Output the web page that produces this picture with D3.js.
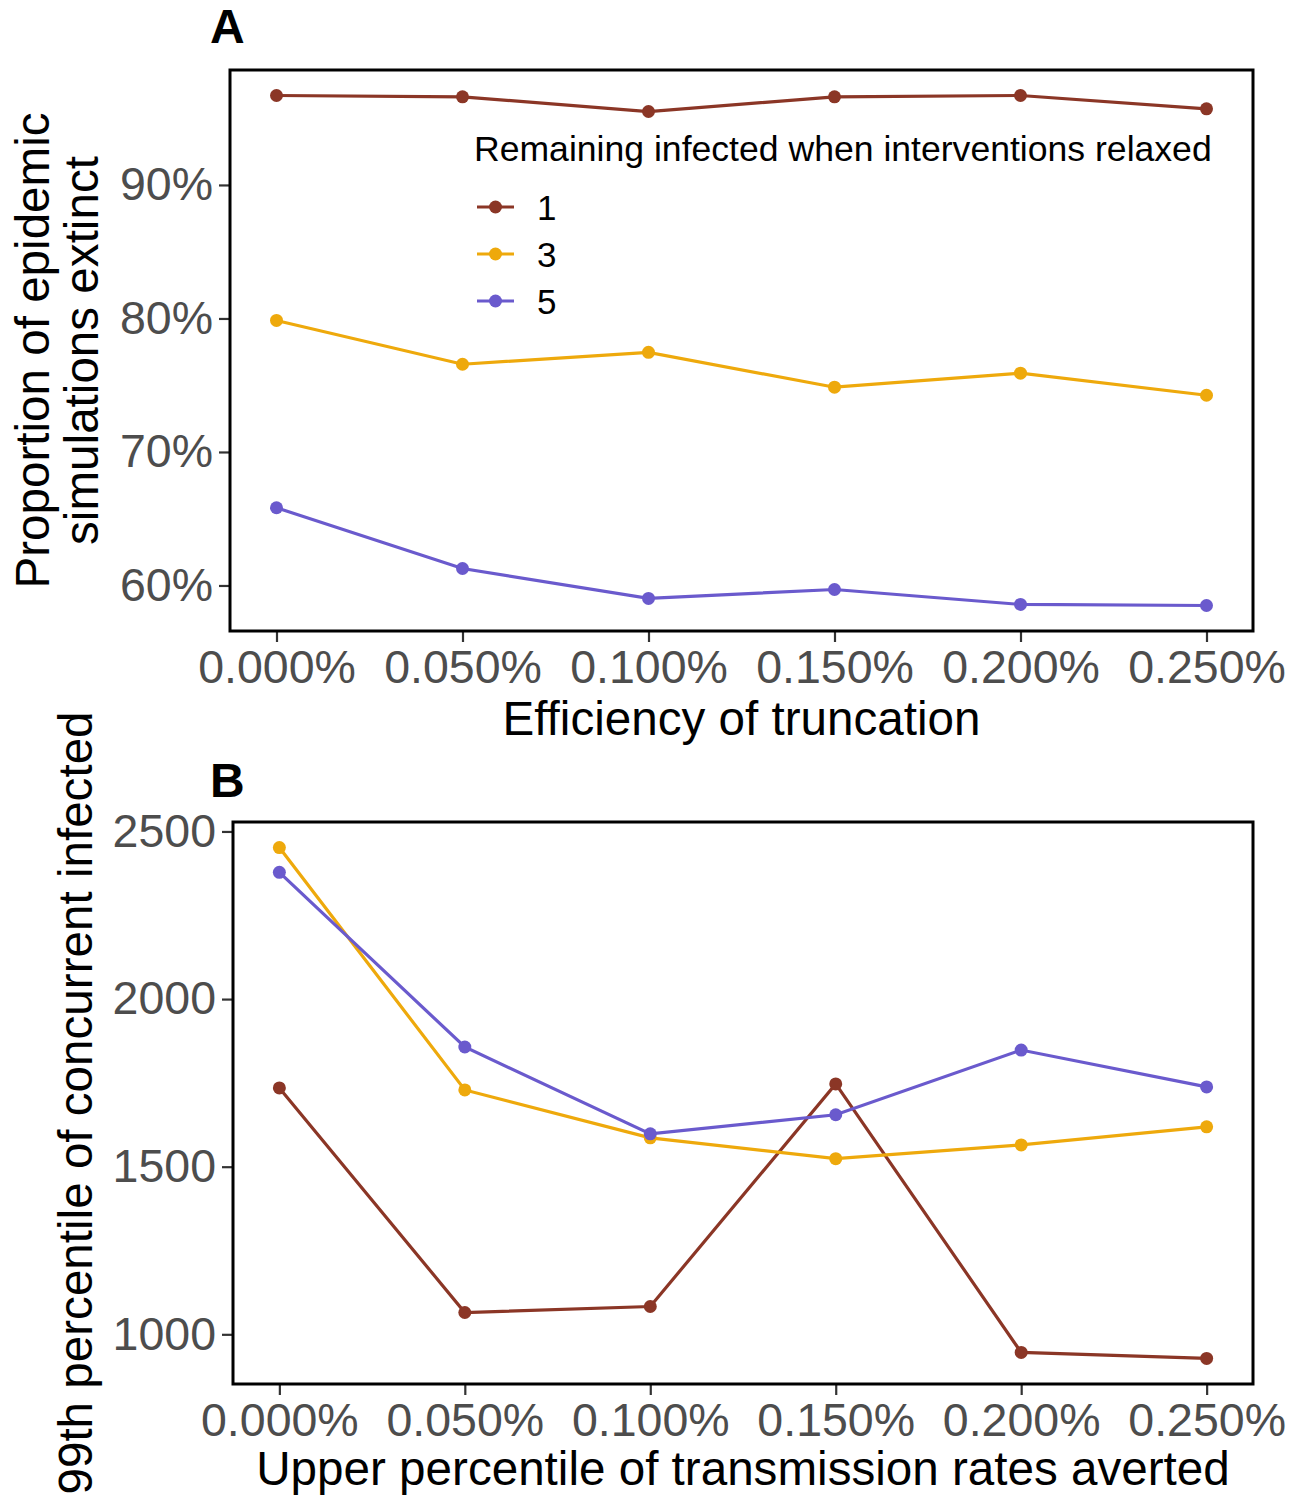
<!DOCTYPE html>
<html><head><meta charset="utf-8">
<script src="https://cdn.jsdelivr.net/npm/d3@7"></script>
<style>body{margin:0;background:#fff}svg{display:block}text{font-family:"Liberation Sans",Arial,Helvetica,sans-serif}</style>
</head><body><svg id="c" width="1298" height="1496"></svg>
<script>
const xValues = [0, 0.0005, 0.001, 0.0015, 0.002, 0.0025];
const xTickLabels = ["0.000%","0.050%","0.100%","0.150%","0.200%","0.250%"];
const seriesNames = ["1","3","5"];
const seriesColors = ["#8B3626","#EEA90C","#6A5ACD"];
// Panel A: proportion extinct
const extinct1 = [0.967, 0.966, 0.955, 0.966, 0.967, 0.957];
const extinct3 = [0.7985, 0.7657, 0.7746, 0.7485, 0.759, 0.7425];
const extinct5 = [0.6582, 0.6127, 0.5903, 0.597, 0.5858, 0.585];
const yTicksA = [0.6, 0.7, 0.8, 0.9];
const yTickLabelsA = ["60%","70%","80%","90%"];
// Panel B: 99th percentile of concurrent infected
const infected1 = [1735, 1065, 1083, 1747, 946, 928];
const infected3 = [2452, 1729, 1586, 1524, 1565, 1619];
const infected5 = [2378, 1857, 1598, 1655, 1848, 1738];
const yTicksB = [1000, 1500, 2000, 2500];

const svg = d3.select("#c");
const tickFont = 46.5, titleFont = 47.6;

function expandDomain(vals){
  const mn = d3.min(vals), mx = d3.max(vals), r = mx - mn;
  return [mn - 0.05*r, mx + 0.05*r];
}

function panel(o){
  const x = d3.scaleLinear().domain(expandDomain(xValues)).range([o.left, o.right]);
  const y = d3.scaleLinear().domain(expandDomain(o.series.flat())).range([o.bottom, o.top]);
  const g = svg.append("g");
  const xa = g.append("g").attr("transform", `translate(0,${o.bottom})`)
    .call(d3.axisBottom(x).tickValues(xValues).tickFormat((d,i)=>xTickLabels[i]).tickSize(11).tickPadding(8));
  const ya = g.append("g").attr("transform", `translate(${o.left},0)`)
    .call(d3.axisLeft(y).tickValues(o.yTicks).tickFormat((d,i)=>o.yLabels[i]).tickSize(11).tickPadding(6));
  [xa, ya].forEach(a=>{
    a.select(".domain").remove();
    a.selectAll(".tick line").attr("stroke","#333").attr("stroke-width",2.2);
    a.selectAll(".tick text").attr("fill","#4d4d4d").style("font-size", tickFont+"px").style("font-family",'"Liberation Sans",Arial,sans-serif');
  });
  const line = d3.line().x((d,i)=>x(xValues[i])).y(d=>y(d));
  o.series.forEach((s,k)=>{
    g.append("path").attr("d", line(s)).attr("fill","none").attr("stroke", seriesColors[k]).attr("stroke-width",3.2);
  });
  o.series.forEach((s,k)=>{
    g.selectAll(null).data(s).enter().append("circle")
      .attr("cx",(d,i)=>x(xValues[i])).attr("cy",d=>y(d)).attr("r",6.5).attr("fill",seriesColors[k]);
  });
  g.append("rect").attr("x",o.left).attr("y",o.top).attr("width",o.right-o.left).attr("height",o.bottom-o.top)
    .attr("fill","none").attr("stroke","#000").attr("stroke-width",3);
  g.append("text").attr("x",(o.left+o.right)/2).attr("y",o.xTitleY).attr("text-anchor","middle")
    .style("font-size",titleFont+"px").attr("fill","#000").text(o.xTitle);
  const cy = (o.top+o.bottom)/2;
  o.yTitle.forEach((t,i)=>{
    g.append("text").attr("transform",`translate(${o.yTitleX[i]},${cy}) rotate(-90)`).attr("text-anchor","middle")
      .style("font-size",titleFont+"px").attr("fill","#000").text(t);
  });
  g.append("text").attr("x",o.tagX).attr("y",o.tagY).style("font-size","48px").style("font-weight","bold").text(o.tag);
  return {x,y,g};
}

const A = panel({left:230,right:1253,top:70,bottom:631,series:[extinct1,extinct3,extinct5],
  yTicks:yTicksA,yLabels:yTickLabelsA,xTitle:"Efficiency of truncation",xTitleY:735,
  yTitle:["Proportion of epidemic","simulations extinct"],yTitleX:[49,98],tag:"A",tagX:210,tagY:43});
const B = panel({left:233,right:1253,top:822,bottom:1384,series:[infected1,infected3,infected5],
  yTicks:yTicksB,yLabels:yTicksB.map(String),xTitle:"Upper percentile of transmission rates averted",xTitleY:1485,
  yTitle:["99th percentile of concurrent infected"],yTitleX:[92],tag:"B",tagX:210,tagY:797});

// legend (panel A)
const lg = svg.append("g");
lg.append("text").attr("x",474).attr("y",161).style("font-size","35.6px").attr("fill","#000")
  .text("Remaining infected when interventions relaxed");
seriesNames.forEach((n,i)=>{
  const yy = 207 + i*47;
  lg.append("line").attr("x1",477).attr("x2",514).attr("y1",yy).attr("y2",yy).attr("stroke",seriesColors[i]).attr("stroke-width",3.2);
  lg.append("circle").attr("cx",495.5).attr("cy",yy).attr("r",6.5).attr("fill",seriesColors[i]);
  lg.append("text").attr("x",537).attr("y",yy+12.5).style("font-size","35px").attr("fill","#000").text(n);
});
</script></body></html>
